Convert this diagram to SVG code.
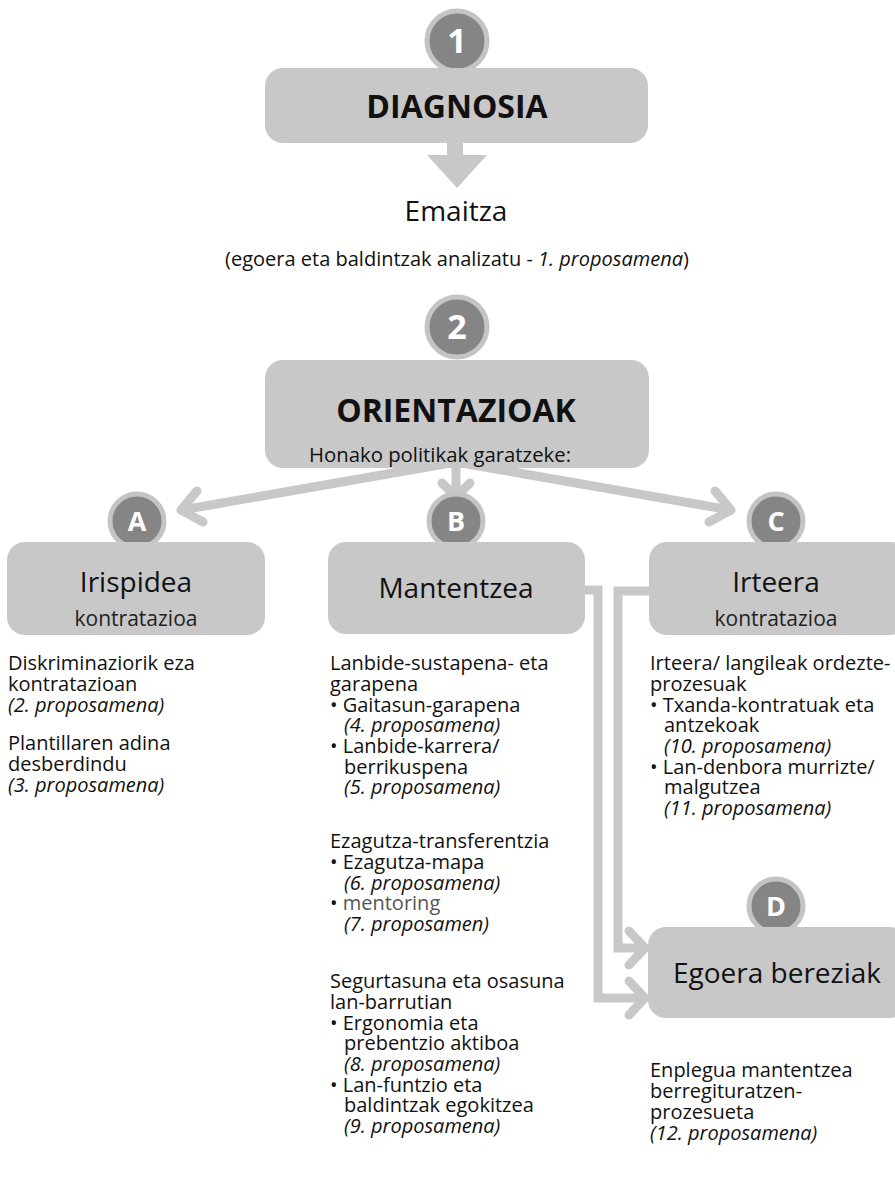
<svg xmlns="http://www.w3.org/2000/svg" width="895" height="1179" viewBox="0 0 895 1179">
<style>
.box{fill:#c8c8c9}
.circ{fill:#858585;stroke:#c4c4c4;stroke-width:5}
.num{font-family:"Open Sans","Liberation Sans",sans-serif;font-weight:bold;fill:#fff;text-anchor:middle}
.title{font-family:"Open Sans","Liberation Sans",sans-serif;font-weight:bold;font-size:32px;fill:#111;text-anchor:middle}
.head{font-family:"Open Sans","Liberation Sans",sans-serif;font-size:28px;fill:#111;text-anchor:middle}
.sub{font-family:"Open Sans","Liberation Sans",sans-serif;font-size:21px;fill:#222;text-anchor:middle}
.t{font-family:"Open Sans","Liberation Sans",sans-serif;font-size:20px;fill:#111}
.i{font-style:italic}
.lt{fill:#555}
.conn{fill:none;stroke:#c8c8c9;stroke-width:9}
.chev{fill:none;stroke:#c8c8c9;stroke-width:9;stroke-linecap:round;stroke-linejoin:round}
</style>
<g id="connectors">
  <polygon points="447,140 463,140 463,155 487,155 457,188 427,155 447,155" fill="#c8c8c9"/>
  <line class="conn" x1="456" y1="462" x2="182" y2="510"/>
  <polyline class="chev" points="197,491 181,510 203,522"/>
  <line class="conn" x1="456" y1="462" x2="456" y2="494"/>
  <polyline class="chev" points="442,483 456,497 470,483"/>
  <line class="conn" x1="456" y1="462" x2="730" y2="510"/>
  <polyline class="chev" points="715,491 731,510 709,522"/>
  <polyline class="conn" points="580,590 598,590 598,998 640,998"/>
  <polyline class="chev" points="629,981 645,998 629,1015"/>
  <polyline class="conn" points="655,591 618,591 618,948 640,948"/>
  <polyline class="chev" points="629,931 645,948 629,965"/>
</g>
<g id="n1">
  <circle class="circ" cx="457" cy="41" r="30"/>
  <text class="num" x="457" y="53" font-size="34">1</text>
</g>
<g id="diagnosia">
  <rect class="box" x="265" y="68" width="383" height="75" rx="18"/>
  <text class="title" x="457" y="118">DIAGNOSIA</text>
</g>
<g id="emaitza">
  <text class="head" x="456" y="221">Emaitza</text>
  <text class="t" x="457" y="266" text-anchor="middle" font-size="20.5">(egoera eta baldintzak analizatu - <tspan class="i">1. proposamena</tspan>)</text>
</g>
<g id="n2">
  <circle class="circ" cx="457" cy="327" r="30"/>
  <text class="num" x="457" y="339" font-size="34">2</text>
</g>
<g id="orientazioak">
  <rect class="box" x="265" y="360" width="384" height="108" rx="18"/>
  <text class="title" x="456" y="422" font-size="33">ORIENTAZIOAK</text>
  <text class="t" x="440" y="462" text-anchor="middle" font-size="21" textLength="262" lengthAdjust="spacingAndGlyphs">Honako politikak garatzeke:</text>
</g>
<g id="A">
  <circle class="circ" cx="137" cy="521" r="27"/>
  <text class="num" x="137" y="531" font-size="27">A</text>
  <rect class="box" x="7" y="542" width="258" height="93" rx="18"/>
  <text class="head" x="136" y="592">Irispidea</text>
  <text class="sub" x="136" y="626">kontratazioa</text>
  <text class="t" x="8" y="670">Diskriminaziorik eza</text>
  <text class="t" x="8" y="691">kontratazioan</text>
  <text class="t i" x="8" y="712">(2. proposamena)</text>
  <text class="t" x="8" y="750">Plantillaren adina</text>
  <text class="t" x="8" y="771">desberdindu</text>
  <text class="t i" x="8" y="792">(3. proposamena)</text>
</g>
<g id="B">
  <circle class="circ" cx="456" cy="521" r="27"/>
  <text class="num" x="456" y="531" font-size="27">B</text>
  <rect class="box" x="328" y="542" width="257" height="92" rx="18"/>
  <text class="head" x="456" y="598">Mantentzea</text>
  <text class="t" x="330" y="670">Lanbide-sustapena- eta</text>
  <text class="t" x="330" y="691">garapena</text>
  <text class="t" x="330" y="712">• Gaitasun-garapena</text>
  <text class="t i" x="344" y="732">(4. proposamena)</text>
  <text class="t" x="330" y="753">• Lanbide-karrera/</text>
  <text class="t" x="344" y="774">berrikuspena</text>
  <text class="t i" x="344" y="794">(5. proposamena)</text>
  <text class="t" x="330" y="848">Ezagutza-transferentzia</text>
  <text class="t" x="330" y="869">• Ezagutza-mapa</text>
  <text class="t i" x="344" y="890">(6. proposamena)</text>
  <text class="t" x="330" y="910">• <tspan class="lt">mentoring</tspan></text>
  <text class="t i" x="344" y="931">(7. proposamen)</text>
  <text class="t" x="330" y="988">Segurtasuna eta osasuna</text>
  <text class="t" x="330" y="1009">lan-barrutian</text>
  <text class="t" x="330" y="1030">• Ergonomia eta</text>
  <text class="t" x="344" y="1050">prebentzio aktiboa</text>
  <text class="t i" x="344" y="1071">(8. proposamena)</text>
  <text class="t" x="330" y="1092">• Lan-funtzio eta</text>
  <text class="t" x="344" y="1112">baldintzak egokitzea</text>
  <text class="t i" x="344" y="1133">(9. proposamena)</text>
</g>
<g id="C">
  <circle class="circ" cx="776" cy="521" r="27"/>
  <text class="num" x="776" y="531" font-size="27">C</text>
  <rect class="box" x="649" y="542" width="260" height="93" rx="18"/>
  <text class="head" x="776" y="592">Irteera</text>
  <text class="sub" x="776" y="626">kontratazioa</text>
  <text class="t" x="650" y="670">Irteera/ langileak ordezte-</text>
  <text class="t" x="650" y="691">prozesuak</text>
  <text class="t" x="650" y="712">• Txanda-kontratuak eta</text>
  <text class="t" x="664" y="732">antzekoak</text>
  <text class="t i" x="664" y="753">(10. proposamena)</text>
  <text class="t" x="650" y="774">• Lan-denbora murrizte/</text>
  <text class="t" x="664" y="794">malgutzea</text>
  <text class="t i" x="664" y="815">(11. proposamena)</text>
</g>
<g id="D">
  <circle class="circ" cx="776" cy="906" r="27"/>
  <text class="num" x="776" y="916" font-size="27">D</text>
  <rect class="box" x="648" y="927" width="260" height="91" rx="18"/>
  <text class="head" x="777" y="983">Egoera bereziak</text>
  <text class="t" x="650" y="1077">Enplegua mantentzea</text>
  <text class="t" x="650" y="1098">berregituratzen-</text>
  <text class="t" x="650" y="1119">prozesueta</text>
  <text class="t i" x="650" y="1140">(12. proposamena)</text>
</g>
</svg>
